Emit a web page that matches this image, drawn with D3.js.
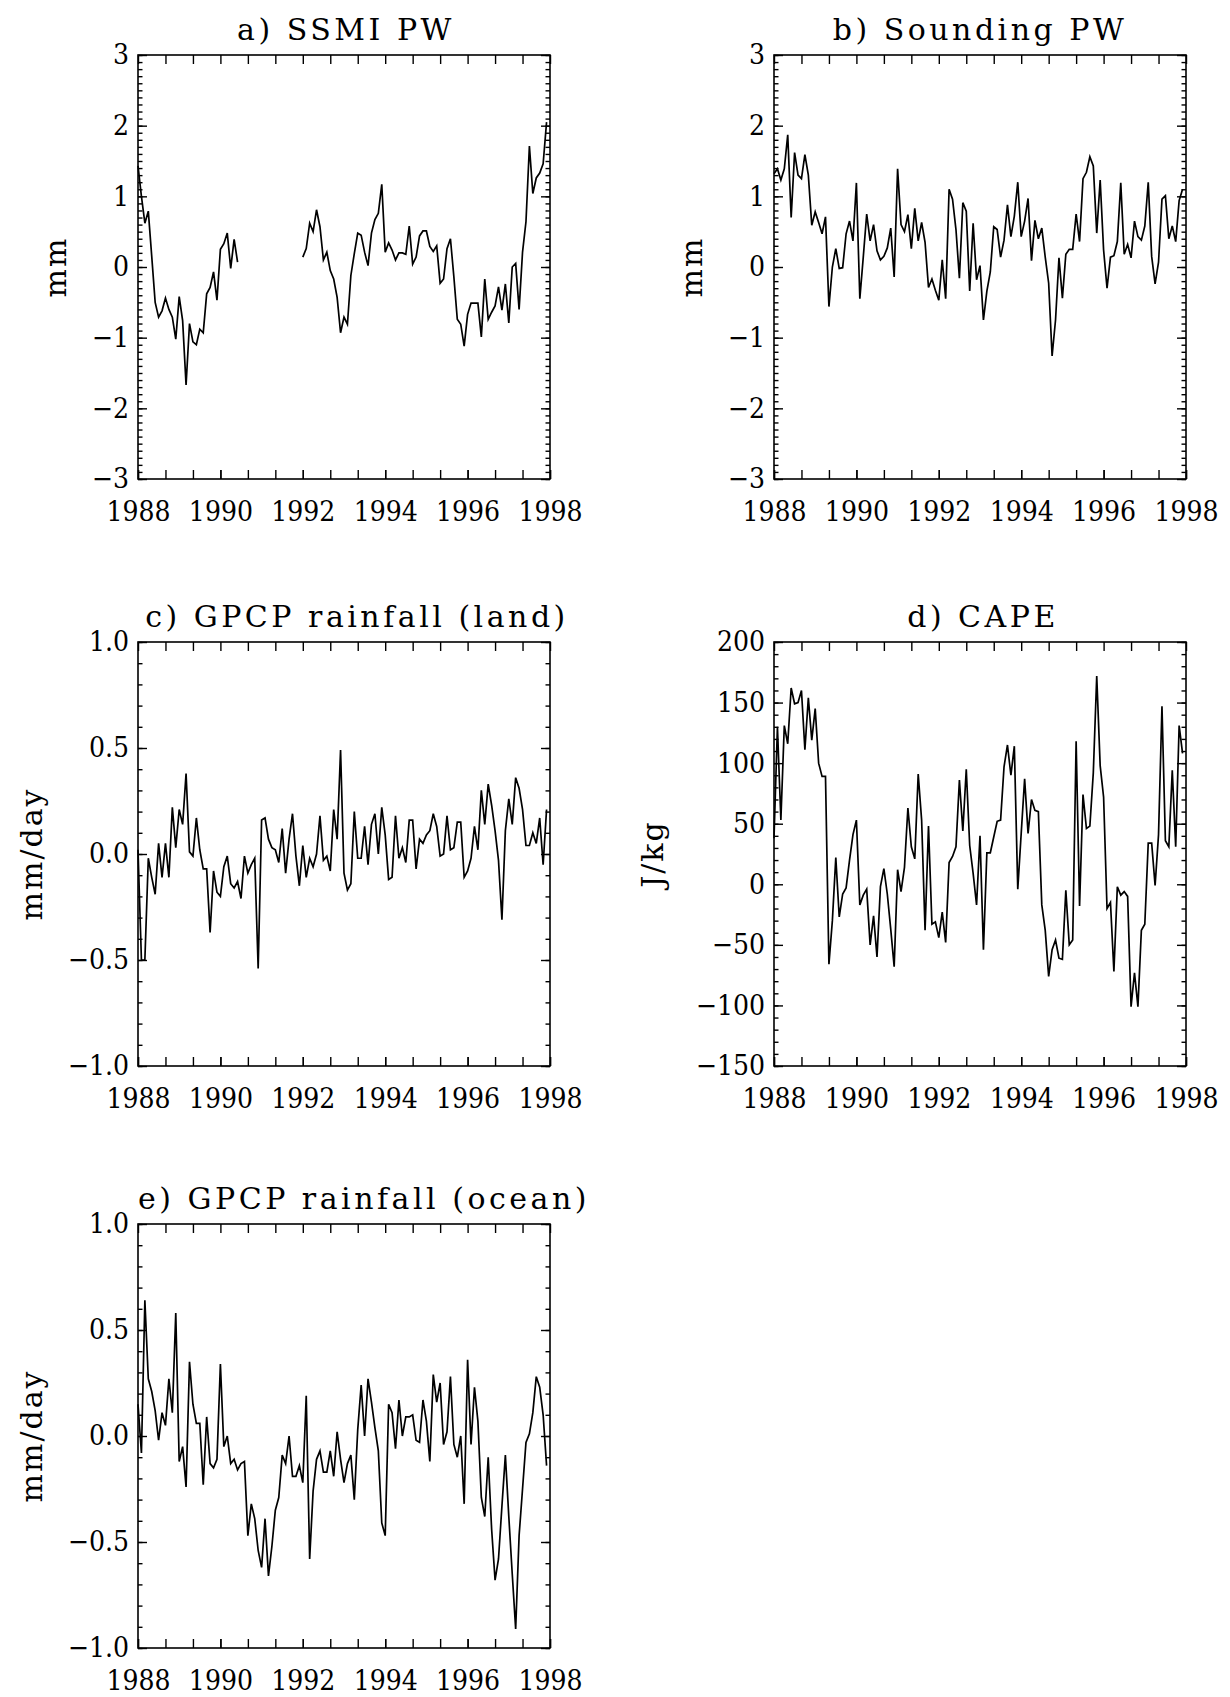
<!DOCTYPE html>
<html>
<head>
<meta charset="utf-8">
<script src="https://cdn.jsdelivr.net/npm/d3@7"></script>
<style>
  body { margin: 0; background: #fff; }
  text { font-family: "DejaVu Serif", serif; fill: #000; }
</style>
</head>
<body>
<div id="figure"></div>
<script>
// 1. DATA: monthly anomalies, Jan 1988 - Dec 1997 (120 months)
//-------------------------------------------------------------
const months = d3.range(120).map(i => 1988 + i / 12);

// a) SSMI PW (mm), no data mid-1990 to end of 1991
const ssmiPW = [1.43, 1.0, 0.62, 0.79, 0.15, -0.5, -0.71, -0.62, -0.44, -0.6,
  -0.71, -1.02, -0.42, -0.76, -1.67, -0.8, -1.06, -1.1, -0.88, -0.93,
  -0.38, -0.29, -0.07, -0.47, 0.25, 0.33, 0.48, -0.02, 0.39, 0.07,
  null, null, null, null, null, null, null, null, null, null,
  null, null, null, null, null, null, null, null,
  0.14, 0.26, 0.62, 0.5, 0.81, 0.57, 0.1, 0.21, -0.05, -0.17,
  -0.43, -0.93, -0.71, -0.81, -0.12, 0.19, 0.48, 0.45, 0.21, 0.02,
  0.48, 0.67, 0.76, 1.17, 0.21, 0.34, 0.24, 0.1, 0.2, 0.2,
  0.18, 0.58, 0.04, 0.14, 0.44, 0.51, 0.51, 0.29, 0.22, 0.3,
  -0.23, -0.17, 0.26, 0.4, -0.14, -0.74, -0.81, -1.12, -0.67, -0.51,
  -0.51, -0.51, -0.99, -0.17, -0.74, -0.64, -0.55, -0.28, -0.61, -0.24,
  -0.79, 0.0, 0.05, -0.6, 0.21, 0.64, 1.71, 1.04, 1.26, 1.33,
  1.46, 2.05];

// b) Sounding PW (mm)
const soundingPW = [1.32, 1.39, 1.23, 1.39, 1.87, 0.7, 1.62, 1.3, 1.25, 1.59,
  1.3, 0.59, 0.78, 0.63, 0.47, 0.71, -0.56, 0.0, 0.26, -0.02,
  -0.01, 0.47, 0.65, 0.37, 1.19, -0.45, 0.14, 0.75, 0.37, 0.6,
  0.23, 0.1, 0.15, 0.27, 0.55, -0.14, 1.39, 0.6, 0.5, 0.74,
  0.26, 0.83, 0.37, 0.63, 0.35, -0.29, -0.17, -0.33, -0.47, 0.1,
  -0.45, 1.1, 0.96, 0.53, -0.16, 0.91, 0.79, -0.34, 0.62, -0.18,
  0.02, -0.75, -0.34, -0.07, 0.57, 0.53, 0.14, 0.38, 0.88, 0.43,
  0.72, 1.2, 0.43, 0.65, 0.97, 0.09, 0.66, 0.4, 0.55, 0.14,
  -0.23, -1.26, -0.75, 0.13, -0.44, 0.18, 0.25, 0.25, 0.75, 0.36,
  1.25, 1.34, 1.56, 1.43, 0.48, 1.23, 0.24, -0.3, 0.14, 0.16,
  0.36, 1.19, 0.18, 0.32, 0.13, 0.65, 0.43, 0.38, 0.58, 1.2,
  0.15, -0.24, 0.07, 0.96, 1.01, 0.4, 0.58, 0.36, 0.94, 1.1];

// c) GPCP rainfall over land (mm/day)
const gpcpLand = [0.02, -0.5, -0.5, -0.02, -0.11, -0.19, 0.05, -0.11, 0.05, -0.11,
  0.22, 0.03, 0.21, 0.14, 0.38, 0.01, -0.01, 0.17, 0.02, -0.07,
  -0.07, -0.37, -0.08, -0.18, -0.2, -0.06, -0.01, -0.14, -0.16, -0.13,
  -0.21, -0.01, -0.09, -0.05, -0.02, -0.54, 0.16, 0.17, 0.07, 0.03,
  0.02, -0.04, 0.12, -0.09, 0.07, 0.19, -0.01, -0.15, 0.04, -0.11,
  -0.02, -0.06, 0.0, 0.18, -0.03, -0.01, -0.08, 0.21, 0.07, 0.49,
  -0.09, -0.17, -0.14, 0.2, -0.02, -0.02, 0.13, -0.05, 0.14, 0.19,
  0.0, 0.22, 0.09, -0.12, -0.11, 0.18, -0.02, 0.03, -0.04, 0.16,
  0.16, -0.07, 0.07, 0.05, 0.09, 0.11, 0.19, 0.13, -0.01, 0.0,
  0.18, 0.02, 0.03, 0.15, 0.15, -0.11, -0.08, -0.02, 0.13, 0.02,
  0.3, 0.14, 0.33, 0.23, 0.11, -0.03, -0.31, 0.11, 0.26, 0.14,
  0.36, 0.31, 0.21, 0.04, 0.04, 0.1, 0.05, 0.17, -0.05, 0.21];

// d) CAPE (J/kg)
const cape = [38, 130, 53, 131, 116, 162, 149, 150, 160, 111,
  154, 119, 145, 100, 89, 89, -66, -30, 22, -27,
  -8, -3, 20, 41, 53, -17, -9, -4, -50, -26,
  -60, -2, 13, -8, -37, -68, 12, -6, 14, 63,
  31, 21, 91, 53, -38, 48, -33, -31, -44, -23,
  -48, 18, 23, 31, 86, 44, 95, 32, 9, -17,
  40, -54, 26, 26, 39, 52, 53, 97, 115, 90,
  114, -4, 42, 87, 42, 70, 61, 60, -17, -38,
  -76, -54, -46, -61, -62, -5, -50, -46, 118, -18,
  74, 46, 48, 92, 172, 98, 72, -20, -15, -72,
  -2, -9, -6, -10, -101, -73, -101, -38, -33, 34,
  34, -1, 41, 147, 36, 31, 94, 31, 131, 108];

// e) GPCP rainfall over ocean (mm/day)
const gpcpOcean = [0.15, -0.08, 0.64, 0.27, 0.21, 0.12, -0.02, 0.11, 0.05, 0.27,
  0.11, 0.58, -0.12, -0.05, -0.24, 0.35, 0.15, 0.06, 0.06, -0.23,
  0.09, -0.13, -0.15, -0.11, 0.34, -0.05, 0.0, -0.13, -0.11, -0.16,
  -0.13, -0.12, -0.47, -0.32, -0.39, -0.54, -0.62, -0.39, -0.66, -0.52,
  -0.35, -0.29, -0.09, -0.13, 0.0, -0.19, -0.19, -0.14, -0.22, 0.19,
  -0.58, -0.26, -0.11, -0.07, -0.17, -0.17, -0.07, -0.19, 0.02, -0.11,
  -0.22, -0.13, -0.09, -0.3, 0.03, 0.24, 0.0, 0.27, 0.16, 0.04,
  -0.07, -0.41, -0.47, 0.15, 0.11, -0.06, 0.17, 0.0, 0.09, 0.09,
  0.1, -0.02, -0.03, 0.17, 0.07, -0.12, 0.29, 0.16, 0.25, -0.04,
  0.02, 0.28, -0.04, -0.1, 0.0, -0.32, 0.36, -0.04, 0.23, 0.07,
  -0.29, -0.38, -0.1, -0.44, -0.68, -0.58, -0.33, -0.09, -0.38, -0.65,
  -0.91, -0.47, -0.25, -0.03, 0.01, 0.11, 0.28, 0.23, 0.1, -0.14];

// panel text and axis ranges
const panelTitles = ["a) SSMI PW", "b) Sounding PW", "c) GPCP rainfall (land)", "d) CAPE", "e) GPCP rainfall (ocean)"];
const yLabels = ["mm", "mm", "mm/day", "J/kg", "mm/day"];
const yDomains = [[-3, 3], [-3, 3], [-1, 1], [-150, 200], [-1, 1]];
const yMajorTicks = [
  [-3, -2, -1, 0, 1, 2, 3],
  [-3, -2, -1, 0, 1, 2, 3],
  [-1, -0.5, 0, 0.5, 1],
  [-150, -100, -50, 0, 50, 100, 150, 200],
  [-1, -0.5, 0, 0.5, 1]
];
const yMinorTicks = [
  d3.range(-30, 31).map(i => i / 10),
  d3.range(-30, 31).map(i => i / 10),
  d3.range(-10, 11).map(i => i / 10),
  d3.range(-15, 21).map(i => i * 10),
  d3.range(-10, 11).map(i => i / 10)
];
const yFormats = ["d", "d", ".1f", "d", ".1f"];
const xMajorTicks = [1988, 1990, 1992, 1994, 1996, 1998];
const xMinorTicks = d3.range(0, 16).map(i => 1988 + i * 2 / 3);

const seriesList = [ssmiPW, soundingPW, gpcpLand, cape, gpcpOcean];

// 2. LAYOUT
//-------------------------------------------------------------
const svgWidth = 1230;
const svgHeight = 1697;
const plotWidth = 412;
const plotHeight = 424;
const colLeft = [138, 774];
const rowTop = [55, 642, 1224];
const yLabelOffset = [72, 72, 96, 111, 96];
const titleShift = [2, 0, 13, 3, 20];

const svg = d3.select("#figure")
  .append("svg")
  .attr("width", svgWidth)
  .attr("height", svgHeight);

// 3. DRAW EACH PANEL
//-------------------------------------------------------------
seriesList.forEach(function(values, p) {
  const left = colLeft[p % 2];
  const top = rowTop[Math.floor(p / 2)];

  const g = svg.append("g")
    .attr("transform", `translate(${left},${top})`);

  const xScale = d3.scaleLinear()
    .domain([1988, 1998])
    .range([0, plotWidth]);

  const yScale = d3.scaleLinear()
    .domain(yDomains[p])
    .range([plotHeight, 0]);

  // x ticks, bottom (labelled) and top, pointing inward
  g.append("g")
    .attr("class", "axis")
    .attr("transform", `translate(0,${plotHeight})`)
    .call(d3.axisBottom(xScale).tickValues(xMajorTicks).tickFormat(d3.format("d"))
      .tickSize(-9).tickPadding(22));
  g.append("g")
    .attr("class", "axis")
    .attr("transform", `translate(0,${plotHeight})`)
    .call(d3.axisBottom(xScale).tickValues(xMinorTicks).tickFormat("").tickSize(-9));
  g.append("g")
    .attr("class", "axis")
    .call(d3.axisTop(xScale).tickValues(xMinorTicks).tickFormat("").tickSize(-9));

  // y ticks, left (labelled) and right
  g.append("g")
    .attr("class", "axis")
    .call(d3.axisLeft(yScale).tickValues(yMajorTicks[p]).tickFormat(d3.format(yFormats[p]))
      .tickSize(-9).tickPadding(9));
  g.append("g")
    .attr("class", "axis")
    .call(d3.axisLeft(yScale).tickValues(yMinorTicks[p]).tickFormat("").tickSize(-4.5));
  g.append("g")
    .attr("class", "axis")
    .attr("transform", `translate(${plotWidth},0)`)
    .call(d3.axisRight(yScale).tickValues(yMajorTicks[p]).tickFormat("").tickSize(-9));
  g.append("g")
    .attr("class", "axis")
    .attr("transform", `translate(${plotWidth},0)`)
    .call(d3.axisRight(yScale).tickValues(yMinorTicks[p]).tickFormat("").tickSize(-4.5));

  g.selectAll(".axis .domain").remove();
  g.selectAll(".axis line")
    .attr("stroke", "#000")
    .attr("stroke-width", 1.4);
  g.selectAll(".axis text")
    .attr("font-family", "DejaVu Serif")
    .attr("font-size", 28)
    .attr("font-stretch", "condensed")
    .attr("fill", "#000");

  // frame
  g.append("rect")
    .attr("width", plotWidth)
    .attr("height", plotHeight)
    .attr("fill", "none")
    .attr("stroke", "#000")
    .attr("stroke-width", 1.6);

  // data line
  const line = d3.line()
    .defined(d => d[1] !== null)
    .x(d => xScale(d[0]))
    .y(d => yScale(d[1]));

  g.append("path")
    .datum(months.map((m, i) => [m, values[i]]))
    .attr("d", line)
    .attr("fill", "none")
    .attr("stroke", "#000")
    .attr("stroke-width", 1.7)
    .attr("stroke-linejoin", "miter");

  // title
  g.append("text")
    .attr("x", plotWidth / 2 + titleShift[p])
    .attr("y", -15)
    .attr("text-anchor", "middle")
    .attr("font-size", 30)
    .attr("letter-spacing", 3.5)
    .text(panelTitles[p]);

  // y axis label
  g.append("text")
    .attr("transform", `translate(${-yLabelOffset[p]},${plotHeight / 2}) rotate(-90)`)
    .attr("text-anchor", "middle")
    .attr("font-size", 30)
    .attr("letter-spacing", 2)
    .text(yLabels[p]);
});
</script>
</body>
</html>
